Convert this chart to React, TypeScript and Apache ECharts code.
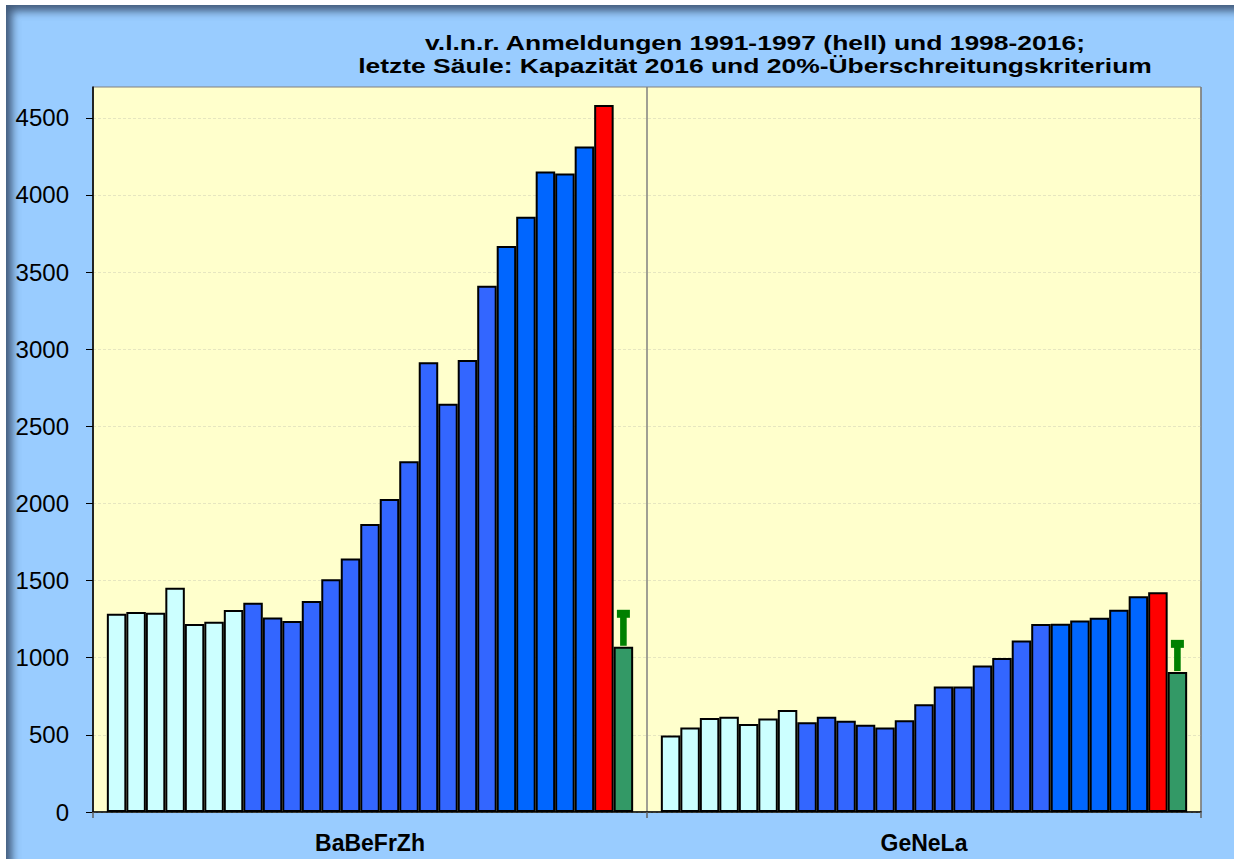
import React, { useEffect, useRef } from "react";
import * as echarts from "echarts";

const groups = ["BaBeFrZh", "GeNeLa"];
const years = [
  "1991", "1992", "1993", "1994", "1995", "1996", "1997",
  "1998", "1999", "2000", "2001", "2002", "2003", "2004", "2005", "2006",
  "2007", "2008", "2009", "2010", "2011", "2012", "2013", "2014", "2015", "2016",
];
const babefrzh = [
  1285, 1297, 1291, 1453, 1218, 1233, 1310,
  1356, 1261, 1239, 1368, 1509, 1643, 1867, 2029, 2274, 2916, 2647, 2931, 3412,
  3669, 3859, 4153, 4140, 4315,
  4584,
];
const genela = [
  496, 548, 610, 617, 571, 606, 662,
  582, 617, 591, 565, 548, 595, 699, 814, 814, 950, 998, 1112, 1218,
  1220, 1242, 1259, 1311, 1399,
  1425,
];
const capacity2016 = [1071, 907];
const criterionTop = [1285, 1090];
const yTicks = [0, 500, 1000, 1500, 2000, 2500, 3000, 3500, 4000, 4500];
const titleLines = [
  "v.l.n.r. Anmeldungen 1991-1997 (hell) und 1998-2016;",
  "letzte Säule: Kapazität 2016 und 20%-Überschreitungskriterium",
];

const GAP = 0.05;
const FONT = "'Liberation Sans', Arial, sans-serif";

function yearColor(i: number): string {
  if (i < 7) return "#CCFFFF";
  if (i < 20) return "#3366FF";
  if (i < 25) return "#0066FF";
  return "#FF0000";
}

export default function App() {
  const ref = useRef<HTMLDivElement>(null);
  useEffect(() => {
    document.body.style.margin = "0";
    if (!ref.current) return;
    const chart = echarts.init(ref.current, null, { renderer: "svg" });
    const nBars = years.length + 1;
    const series: any[] = years.map((y, i) => ({
      name: y,
      type: "bar",
      data: [babefrzh[i], genela[i]],
      barGap: "0%",
      barCategoryGap: GAP * 100 + "%",
      itemStyle: { color: yearColor(i), borderColor: "#000000", borderWidth: 2 },
    }));
    series.push({
      name: "Kapazität 2016",
      type: "bar",
      data: capacity2016,
      barGap: "0%",
      barCategoryGap: GAP * 100 + "%",
      itemStyle: { color: "#339966", borderColor: "#000000", borderWidth: 2 },
    });
    series.push({
      name: "20%-Überschreitungskriterium",
      type: "custom",
      z: 10,
      data: capacity2016.map((c, i) => [i, c, criterionTop[i]]),
      encode: { x: 0, y: [1, 2] },
      renderItem: (params: any, api: any) => {
        const ci = api.value(0);
        const base = api.coord([ci, api.value(1)]);
        const top = api.coord([ci, api.value(2)]);
        const bandW = api.size([1, 0])[0];
        const groupW = bandW * (1 - GAP);
        const bw = groupW / nBars;
        const x = base[0] + groupW / 2 - bw / 2;
        return {
          type: "group",
          children: [
            {
              type: "rect",
              shape: { x: x - 3.3, y: top[1], width: 6.6, height: base[1] - top[1] - 1 },
              style: { fill: "#008000" },
            },
            {
              type: "rect",
              shape: { x: x - 6.5, y: top[1] - 4, width: 13, height: 8 },
              style: { fill: "#008000" },
            },
          ],
        };
      },
    });

    chart.setOption({
      animation: false,
      grid: {
        left: 93,
        right: 33,
        top: 87,
        bottom: 47,
        show: true,
        backgroundColor: "#FFFFCC",
        borderColor: "#808080",
        borderWidth: 1,
      },
      graphic: titleLines.map((t, i) => ({
        type: "text",
        x: 755,
        y: i === 0 ? 42.5 : 66,
        scaleX: 1.26,
        style: {
          text: t,
          font: `bold 21px ${FONT}`,
          fill: "#000000",
          align: "center",
          verticalAlign: "middle",
        },
      })),
      xAxis: {
        type: "category",
        data: groups,
        axisLine: { show: true, lineStyle: { color: "#000000", width: 1.5 } },
        axisTick: { show: true, length: 6, lineStyle: { color: "#606060", width: 1.5 } },
        splitLine: { show: true, lineStyle: { color: "#808080", width: 1.5 } },
        axisLabel: {
          color: "#000000",
          fontSize: 23,
          fontWeight: "bold",
          fontFamily: FONT,
          margin: 19,
        },
      },
      yAxis: {
        type: "value",
        min: 0,
        max: 4700,
        interval: 500,
        axisLine: { show: true, lineStyle: { color: "#000000", width: 1.5 } },
        axisTick: { show: true, length: 7, lineStyle: { color: "#000000" }, customValues: yTicks },
        splitLine: { show: true, lineStyle: { color: "#E6E6C0", type: [3, 2], width: 1 } },
        axisLabel: {
          color: "#000000",
          fontSize: 24,
          fontFamily: FONT,
          margin: 24,
          customValues: yTicks,
          formatter: (v: number) => String(v),
        },
      },
      series,
    });
    return () => chart.dispose();
  }, []);

  return (
    <div style={{ position: "relative", width: 1234, height: 859, background: "#FFFFFF", overflow: "hidden" }}>
      <div
        style={{
          position: "absolute",
          left: 6,
          top: 5,
          right: 0,
          bottom: 0,
          background: "#99CCFF",
          boxShadow: "inset 9px 9px 9px -3px rgba(50,70,100,0.85)",
        }}
      />
      <div ref={ref} style={{ position: "absolute", left: 0, top: 0, width: 1234, height: 859 }} />
    </div>
  );
}
